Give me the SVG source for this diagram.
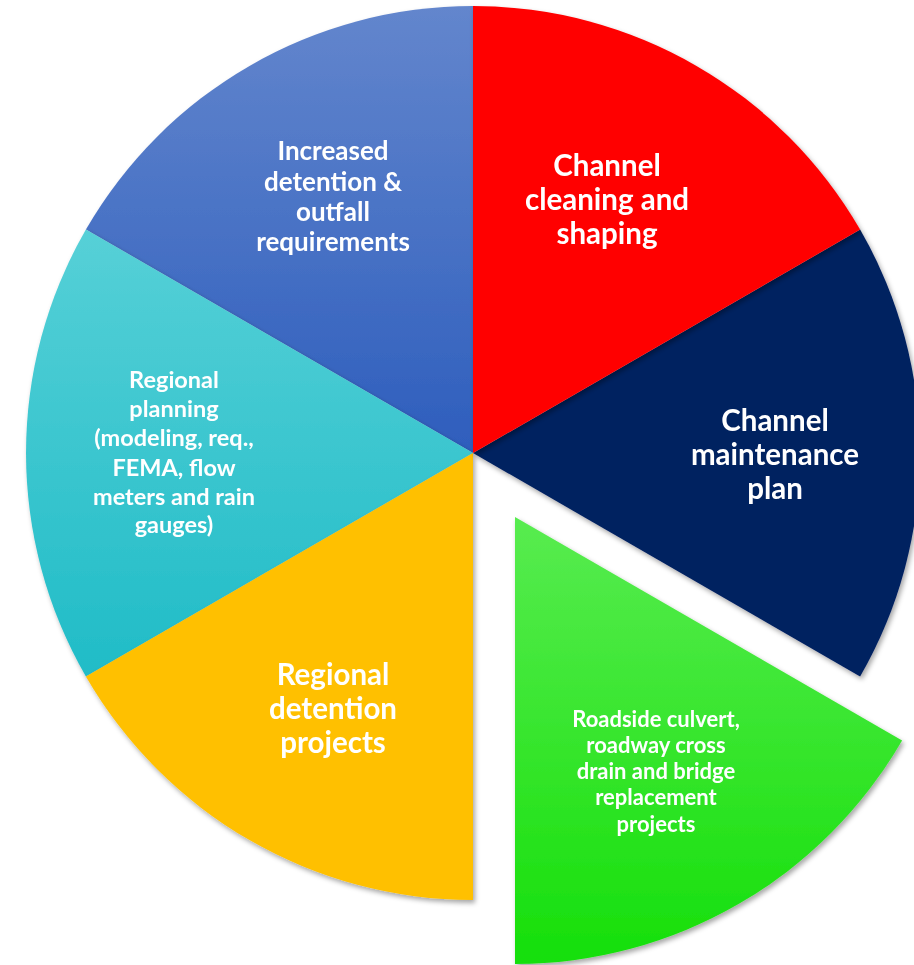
<svg xmlns="http://www.w3.org/2000/svg" width="914" height="965" viewBox="0 0 914 965">
<defs>
<linearGradient id="gBlue" gradientUnits="userSpaceOnUse" x1="0" y1="6" x2="0" y2="453">
<stop offset="0" stop-color="#6386CD"/><stop offset="1" stop-color="#2E5EBD"/>
</linearGradient>
<linearGradient id="gCyan" gradientUnits="userSpaceOnUse" x1="0" y1="230" x2="0" y2="677">
<stop offset="0" stop-color="#56D0D7"/><stop offset="1" stop-color="#20BCC7"/>
</linearGradient>
<linearGradient id="gGreen" gradientUnits="userSpaceOnUse" x1="0" y1="517" x2="0" y2="964">
<stop offset="0" stop-color="#58EC50"/><stop offset="1" stop-color="#15DF0A"/>
</linearGradient>
<filter id="sh" x="-10%" y="-10%" width="120%" height="120%">
<feDropShadow dx="2" dy="3" stdDeviation="2.5" flood-color="#000" flood-opacity="0.35"/>
</filter>
</defs>
<style>
.lbl{font-family:Lato,"Liberation Sans",sans-serif;font-weight:700;fill:#FFFFFF;text-anchor:middle}
.big{font-size:29.5px}
.mid{font-size:26px}
.sm{font-size:23.5px}
.xs{font-size:22px}
</style>
<rect width="914" height="965" fill="#FFFFFF"/>
<g id="slice-blue" filter="url(#sh)">
<path d="M473,453 L85.9,229.5 A447,447 0 0 1 473,6 Z" fill="url(#gBlue)"/>
<text class="lbl mid" x="333" y="160">Increased</text>
<text class="lbl mid" x="333" y="191">detention &amp;</text>
<text class="lbl mid" x="333" y="221">outfall</text>
<text class="lbl mid" x="333" y="251">requirements</text>
</g>
<g id="slice-cyan" filter="url(#sh)">
<path d="M473,453 L85.9,676.5 A447,447 0 0 1 85.9,229.5 Z" fill="url(#gCyan)"/>
<text class="lbl sm" x="174" y="388">Regional</text>
<text class="lbl sm" x="174" y="417">planning</text>
<text class="lbl sm" x="174" y="446">(modeling, req.,</text>
<text class="lbl sm" x="174" y="476">FEMA, flow</text>
<text class="lbl sm" x="174" y="505">meters and rain</text>
<text class="lbl sm" x="174" y="533">gauges)</text>
</g>
<g id="slice-yellow" filter="url(#sh)">
<path d="M473,453 L473,900 A447,447 0 0 1 85.9,676.5 Z" fill="#FFC000"/>
<text class="lbl big" x="333" y="685">Regional</text>
<text class="lbl big" x="333" y="719">detention</text>
<text class="lbl big" x="333" y="753">projects</text>
</g>
<g id="slice-navy" filter="url(#sh)">
<path d="M473,453 L860.1,229.5 A447,447 0 0 1 860.1,676.5 Z" fill="#002060"/>
<text class="lbl big" x="775" y="431">Channel</text>
<text class="lbl big" x="775" y="465">maintenance</text>
<text class="lbl big" x="775" y="499">plan</text>
</g>
<g id="slice-red" filter="url(#sh)">
<path d="M473,453 L473,6 A447,447 0 0 1 860.1,229.5 Z" fill="#FF0000"/>
<text class="lbl big" x="607" y="176">Channel</text>
<text class="lbl big" x="607" y="210">cleaning and</text>
<text class="lbl big" x="607" y="244">shaping</text>
</g>
<g id="slice-green" filter="url(#sh)">
<path d="M515,517 L902.1,740.5 A447,447 0 0 1 515,964 Z" fill="url(#gGreen)"/>
<text class="lbl xs" x="656" y="727">Roadside culvert,</text>
<text class="lbl xs" x="656" y="753">roadway cross</text>
<text class="lbl xs" x="656" y="779">drain and bridge</text>
<text class="lbl xs" x="656" y="805">replacement</text>
<text class="lbl xs" x="656" y="832">projects</text>
</g>
<g id="connectors"></g>
</svg>
